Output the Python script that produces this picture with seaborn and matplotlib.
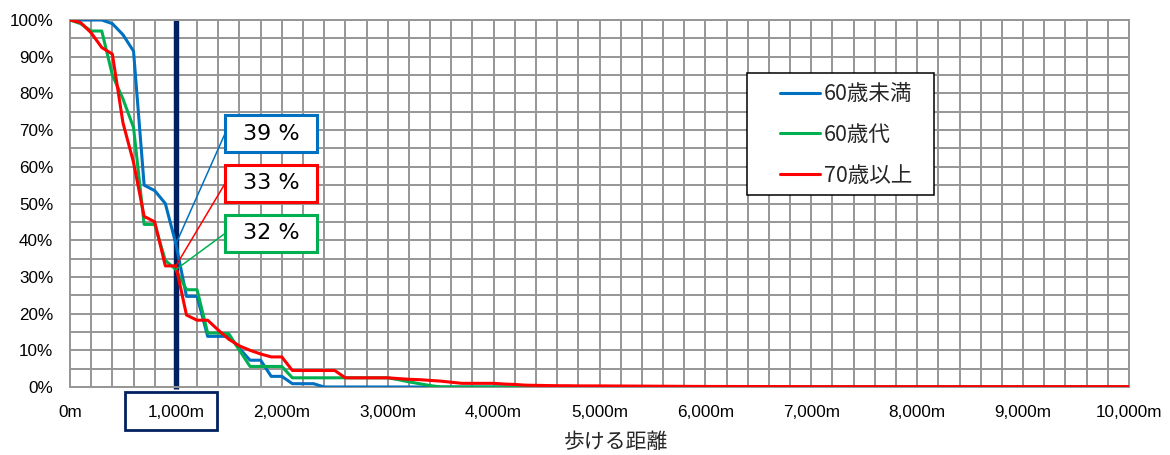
import matplotlib
matplotlib.use("Agg")
import matplotlib.pyplot as plt
from matplotlib.lines import Line2D
from matplotlib.patches import Rectangle
from matplotlib.ticker import MultipleLocator, FuncFormatter
import matplotlib.transforms as mtransforms
import numpy as np
import pandas as pd
import seaborn as sns

# Walking distance (m) and share of people able to walk at least that far (%)
distance_m = list(range(0, 5001, 100)) + [6000, 7000, 8000, 9000, 10000]

under_60 = [100, 100, 100, 100, 99, 96, 91.5, 55, 53.5, 50,
            39, 24.7, 24.7, 13.8, 13.8, 13.8, 10.5, 7.3, 7.3, 2.9,
            2.9, 0.9, 0.9, 0.9, 0,
            0, 0, 0, 0, 0, 0, 0, 0, 0, 0,
            0, 0, 0, 0, 0, 0, 0, 0, 0, 0,
            0, 0, 0, 0, 0, 0,
            0, 0, 0, 0, 0]

sixties = [100, 99, 97, 97, 85, 78.5, 70.7, 44.3, 44.3, 34.5,
           32, 26.5, 26.5, 14.7, 14.7, 14.5, 10, 5.6, 5.6, 5.6,
           5.6, 2.5, 2.5, 2.5, 2.5, 2.5, 2.5, 2.5, 2.5, 2.5,
           2.5, 2.0, 1.4, 0.9, 0.4, 0,
           0, 0, 0, 0, 0, 0, 0, 0, 0, 0, 0, 0, 0, 0, 0,
           0, 0, 0, 0, 0]

over_70 = [100, 99.3, 96.5, 92.5, 90.7, 72, 61.2, 46.5, 45, 33,
           33, 19.6, 18.2, 18.2, 15.5, 13, 11.2, 10, 9, 8.2,
           8.2, 4.5, 4.5, 4.5, 4.5, 4.5, 2.5, 2.5, 2.5, 2.5,
           2.5, 2.3, 2.1, 2.0, 1.8, 1.6, 1.3, 1.0, 1.0, 1.0,
           1.0, 0.8, 0.7, 0.5, 0.45, 0.4, 0.35, 0.35, 0.3, 0.3,
           0.3,
           0.15, 0.1, 0.1, 0.1, 0.1]

groups = ["60歳未満", "60歳代", "70歳以上"]
colors = {"60歳未満": "#0070C0", "60歳代": "#00B050", "70歳以上": "#FF0000"}

# Values at the 1,000 m reference distance shown in the callouts
reference_distance = 1000
callout_values = {"60歳未満": 39, "70歳以上": 33, "60歳代": 32}

df = pd.concat([
    pd.DataFrame({"distance": distance_m, "share": vals, "group": name})
    for name, vals in zip(groups, [under_60, sixties, over_70])
], ignore_index=True)

sns.set_style("white")
plt.rcParams["font.family"] = ["Liberation Sans", "Noto Sans CJK JP", "DejaVu Sans"]

W, H = 1170, 455
fig = plt.figure(figsize=(W / 100, H / 100), dpi=100)
ax_left, ax_right, ax_top, ax_bottom = 70, 1129, 20, 387
ax = fig.add_axes([ax_left / W, 1 - ax_bottom / H,
                   (ax_right - ax_left) / W, (ax_bottom - ax_top) / H])

grid_color = "#969696"

# reference line at 1,000 m
ax.vlines(reference_distance, -0.6, 100, color="#002060", lw=3.9,
          zorder=2, clip_on=False)

sns.lineplot(data=df, x="distance", y="share", hue="group", hue_order=groups,
             palette=colors, linewidth=2.2, estimator=None, sort=False,
             legend=False, ax=ax, zorder=3)

ax.set_xlim(0, 10000)
ax.set_ylim(0, 100)
ax.xaxis.set_major_locator(MultipleLocator(1000))
ax.xaxis.set_minor_locator(MultipleLocator(200))
ax.yaxis.set_major_locator(MultipleLocator(10))
ax.yaxis.set_minor_locator(MultipleLocator(5))
ax.xaxis.set_major_formatter(FuncFormatter(lambda v, p: f"{int(v):,}m"))
ax.yaxis.set_major_formatter(FuncFormatter(lambda v, p: f"{int(v)}%"))
ax.grid(which="both", color=grid_color, lw=1.4)
ax.set_axisbelow(True)
for s in ax.spines.values():
    s.set_color(grid_color)
    s.set_linewidth(1.4)
ax.tick_params(axis="both", which="both", length=0, labelsize=12.3, colors="black")
ax.tick_params(axis="x", pad=13)
ax.tick_params(axis="y", pad=12)

ax.set_ylabel("")
ax.set_xlabel("歩ける距離", fontsize=15, family=["Noto Sans CJK JP"])
ax.xaxis.set_label_coords((616 - ax_left) / (ax_right - ax_left),
                          (ax_bottom - 431) / (ax_bottom - ax_top))

# frame around the 1,000m tick label
blend = mtransforms.blended_transform_factory(ax.transData, ax.transAxes)
ax.add_patch(Rectangle((519, -0.117), 1388 - 519, 0.103, transform=blend,
                       fill=False, edgecolor="#002060", lw=2.0, clip_on=False))

# callout boxes with leader lines
box_x0, box_x1 = 1464, 2332
box_rows = {"60歳未満": (64.0, 74.1), "70歳以上": (50.4, 60.5), "60歳代": (36.8, 46.9)}
for name, (y0, y1) in box_rows.items():
    c = colors[name]
    ymid = (y0 + y1) / 2
    ax.plot([reference_distance, box_x0], [callout_values[name], ymid],
            color=c, lw=1.1, zorder=4)
    ax.add_patch(Rectangle((box_x0, y0), box_x1 - box_x0, y1 - y0,
                           facecolor="white", edgecolor=c, lw=2.2, zorder=5))
    ax.text((box_x0 + box_x1) / 2, ymid, f"{callout_values[name]} %",
            ha="center", va="center", fontsize=16, family=["DejaVu Sans"],
            color="black", zorder=6)

# legend with a separate frame
ax.add_patch(Rectangle((747 / W, 1 - 195 / H), 187 / W, 122 / H,
                       transform=fig.transFigure, facecolor="white",
                       edgecolor="black", lw=1.1, zorder=6, clip_on=False))
handles = [Line2D([], [], color=colors[g], lw=2.2) for g in groups]
leg = ax.legend(handles, groups, loc="center left",
                bbox_to_anchor=(780 / W, 1 - 135 / H),
                bbox_transform=fig.transFigure, frameon=False,
                borderpad=0, borderaxespad=0, handlelength=1.85,
                handletextpad=0.2, labelspacing=0.88,
                prop={"family": ["Noto Sans CJK JP"], "size": 15.5})
leg.set_zorder(7)

fig.savefig("out.png", dpi=100)
